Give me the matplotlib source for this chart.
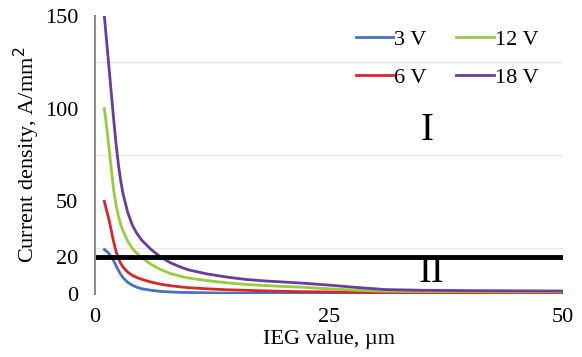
import matplotlib
matplotlib.use('Agg')
from matplotlib import pyplot as plt

plt.rcParams['font.family'] = ['Liberation Serif', 'DejaVu Serif']

# IEG value, um
x = [1, 1.25, 1.5, 1.75, 2, 2.25, 2.5, 2.75, 3, 3.5, 4, 4.5, 5, 6, 7, 8, 9, 10,
     12, 14, 16, 18, 20, 22, 25, 28, 31, 35, 40, 45, 50]

# current density, A/mm2
j_3v = [24, 23, 21.7, 20, 17.8, 15.3, 12.8, 10.6, 8.8, 6.3, 4.7, 3.6, 2.8, 2.0, 1.4, 1.1, 0.9, 0.8,
        0.6, 0.45, 0.4, 0.35, 0.3, 0.3, 0.25, 0.2, 0.2, 0.2, 0.2, 0.2, 0.2]
j_6v = [50, 45, 40, 34, 28, 23, 19.3, 16.5, 14.5, 11.8, 10, 8.8, 7.9, 6.4, 5.3, 4.5, 3.9, 3.4,
        2.8, 2.3, 2.0, 1.7, 1.45, 1.25, 1.1, 0.95, 0.85, 0.8, 0.75, 0.7, 0.7]
j_12v = [100, 90, 79, 67, 56, 48, 42, 37.5, 34, 28.5, 24.5, 21.8, 19.5, 16, 13.2, 11.2, 9.7, 8.6,
         7.2, 6.1, 5.2, 4.6, 4.1, 3.7, 2.8, 2.0, 1.5, 1.3, 1.3, 1.2, 1.2]
j_18v = [150, 136, 122, 108, 94, 81, 70, 61, 54, 44, 37, 32.5, 29, 24, 20, 17, 14.8, 13,
         10.8, 9.2, 7.9, 7.1, 6.5, 5.9, 4.8, 3.5, 2.4, 2.0, 1.8, 1.7, 1.6]

threshold = 20
y_ticks = [0, 20, 50, 100, 150]
grid_y = [0, 25, 50, 75, 100, 125, 150]
x_ticks = [0, 25, 50]

fig = plt.figure(figsize=(5.82, 3.57), dpi=100)
ax = fig.add_axes([0.1632, 0.1765, 0.8042, 0.7787])

# light grid every 25
ax.set_yticks(grid_y, minor=True)
ax.set_xticks(x_ticks, minor=True)
ax.grid(which='minor', color='#e6e6e6', linewidth=0.9)
ax.set_axisbelow(True)

ax.plot(x, j_3v, color='#4472c4', lw=2, label='3 V')
ax.plot(x, j_6v, color='#d9262b', lw=2, label='6 V')
ax.plot(x, j_12v, color='#98cc3c', lw=2, label='12 V')
ax.plot(x, j_18v, color='#6a3c9c', lw=2, label='18 V')

ax.plot([0, 50], [threshold, threshold], color='black', lw=3.5)

ax.text(35.5, 88, 'I', fontsize=28, ha='center', va='center')
ax.text(36, 11.5, 'II', fontsize=28, ha='center', va='center')

ax.set_xlim(0, 50)
ax.set_ylim(0, 150)
ax.set_yticks(y_ticks)
ax.set_xticks(x_ticks)
ax.tick_params(which='both', length=0, labelsize=16)
ax.tick_params(axis='y', pad=12)
ax.tick_params(axis='x', pad=10)

for s in ['top', 'right', 'bottom']:
    ax.spines[s].set_visible(False)
ax.spines['left'].set_color('#8c8c8c')
ax.spines['left'].set_linewidth(1.5)

ax.set_xlabel('IEG value, µm', fontsize=16, labelpad=2)
ax.set_ylabel('Current density, A/mm$^2$', fontsize=16, labelpad=2)

ax.legend(ncol=2, loc='upper right', bbox_to_anchor=(0.99, 1.025), frameon=False,
          fontsize=16, handlelength=1.7, handletextpad=0.05, columnspacing=1.3,
          labelspacing=0.8)

fig.savefig('out.png', dpi=100)
